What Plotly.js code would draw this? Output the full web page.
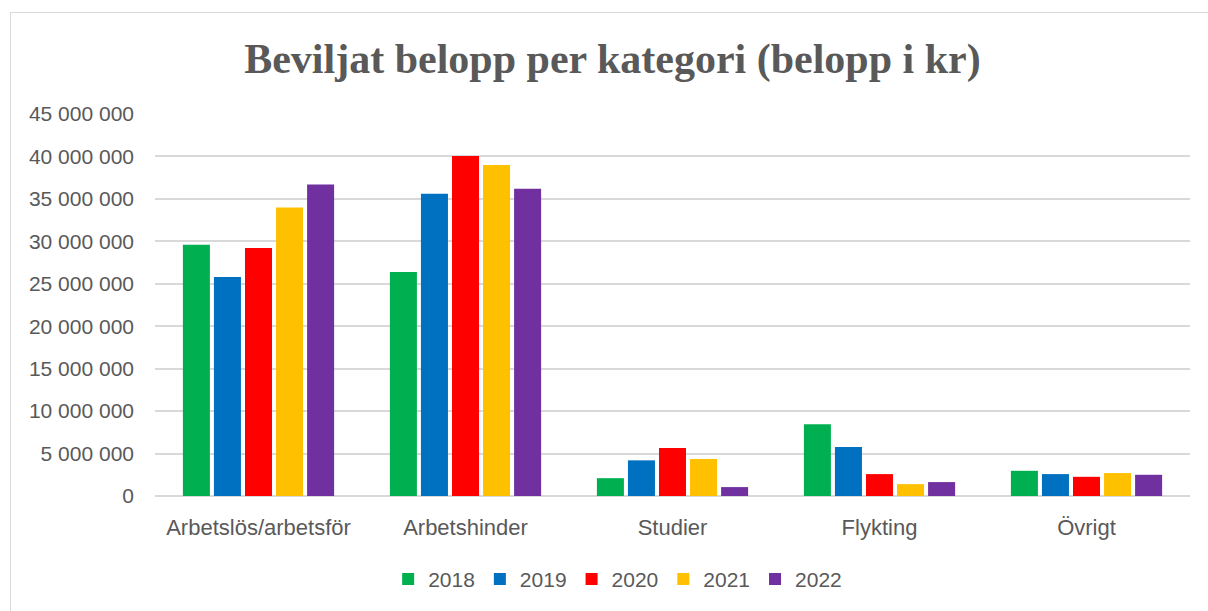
<!DOCTYPE html>
<html>
<head>
<meta charset="utf-8">
<script src="https://cdn.plot.ly/plotly-3.0.1.min.js"></script>
<style>
html,body{margin:0;padding:0;background:#fff;overflow:hidden;}
#frame{position:absolute;left:10px;top:12px;width:1200px;height:640px;border:1px solid #d9d9d9;box-sizing:border-box;}
#chart{position:absolute;left:0;top:0;width:1208px;height:611px;}
</style>
</head>
<body>
<div id="frame"></div>
<div id="chart"></div>
<script>
const categories = ["Arbetslös/arbetsför", "Arbetshinder", "Studier", "Flykting", "Övrigt"];
const years = ["2018", "2019", "2020", "2021", "2022"];
const v2018 = [29600000, 26400000, 2100000, 8440000, 2970000];
const v2019 = [25800000, 35600000, 4200000, 5780000, 2580000];
const v2020 = [29200000, 40050000, 5660000, 2580000, 2260000];
const v2021 = [34000000, 39000000, 4370000, 1400000, 2700000];
const v2022 = [36700000, 36200000, 1050000, 1640000, 2500000];
const colors = ["#00b050", "#0070c0", "#ff0000", "#ffc000", "#7030a0"];
const series = [v2018, v2019, v2020, v2021, v2022];
const yTicks = [0, 5000000, 10000000, 15000000, 20000000, 25000000, 30000000, 35000000, 40000000, 45000000];

const traces = series.map((vals, i) => ({
  type: "bar",
  name: years[i],
  x: categories,
  y: vals,
  marker: {color: colors[i]},
  hoverinfo: "x+y+name"
}));

const layout = {
  width: 1208, height: 611,
  paper_bgcolor: "rgba(0,0,0,0)",
  plot_bgcolor: "rgba(0,0,0,0)",
  margin: {l: 155, r: 18, t: 114, b: 114},
  separators: ", ",
  title: {
    text: "<b>Beviljat belopp per kategori (belopp i kr)</b>",
    font: {family: "Liberation Serif, serif", size: 42, color: "#595959"},
    x: 0.507, xanchor: "center", y: 0.905, yanchor: "middle"
  },
  font: {family: "Liberation Sans, Arial, sans-serif", size: 21, color: "#595959"},
  barmode: "group",
  bargap: 0.25,
  bargroupgap: 0.13,
  xaxis: {
    showgrid: false, showline: false, zeroline: false,
    ticks: "", tickfont: {size: 22, color: "#595959"},
    ticklabelstandoff: 16
  },
  yaxis: {
    range: [0, 45000000],
    tickvals: yTicks,
    tickformat: ",d",
    showgrid: true, gridcolor: "#d9d9d9", gridwidth: 1.5,
    zeroline: true, zerolinecolor: "#d9d9d9", zerolinewidth: 1.5,
    showline: false, ticks: "",
    tickfont: {size: 21, color: "#595959"},
    ticklabelstandoff: 20
  },
  legend: {
    orientation: "h", x: 0.447, xanchor: "center", y: -0.215, yanchor: "middle",
    font: {size: 21, color: "#595959"},
    itemwidth: 30, traceorder: "normal"
  },
  showlegend: true
};

Plotly.newPlot("chart", traces, layout, {displayModeBar: false, staticPlot: false});
</script>
</body>
</html>
